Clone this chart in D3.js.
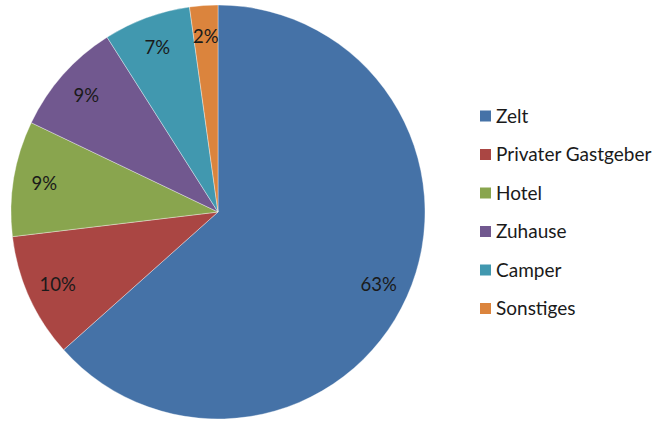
<!DOCTYPE html>
<html>
<head>
<meta charset="utf-8">
<script src="https://cdn.jsdelivr.net/npm/d3@7"></script>
<style>
  body { margin: 0; background: #fff; }
  text { font-family: Lato, "Noto Sans", sans-serif; }
</style>
</head>
<body>
<div id="chart"></div>
<script>
// values (percent)
const categories = ["Zelt", "Privater Gastgeber", "Hotel", "Zuhause", "Camper", "Sonstiges"];
const shares = [63.4, 9.7, 9.0, 8.9, 6.8, 2.2];
const colors = ["#4572A7", "#AA4643", "#89A54E", "#71588F", "#4198AF", "#DB843D"];

const width = 659, height = 421;
const cx = 218, cy = 212, radius = 207;

const svg = d3.select("#chart").append("svg")
    .attr("width", width)
    .attr("height", height);

const pie = d3.pie().sort(null).value(d => d.value);
const data = categories.map((c, i) => ({name: c, value: shares[i], color: colors[i]}));
const arcs = pie(data);

const arc = d3.arc().innerRadius(0).outerRadius(radius);
const labelArc = d3.arc().innerRadius(radius * 0.85).outerRadius(radius * 0.85);

let g = svg.append("g").attr("transform", `translate(${cx},${cy})`);

g.selectAll("path")
    .data(arcs)
    .join("path")
    .attr("d", arc)
    .attr("fill", d => d.data.color)
    .attr("stroke", "#fff")
    .attr("stroke-opacity", 0.6)
    .attr("stroke-width", 0.6);

g.selectAll("text.lbl")
    .data(arcs)
    .join("text")
    .attr("class", "lbl")
    .attr("transform", d => `translate(${labelArc.centroid(d)})`)
    .attr("text-anchor", "middle")
    .attr("dy", "0.36em")
    .style("font-size", "18.5px")
    .style("fill", "#1a1a1a")
    .text(d => Math.round(d.data.value) + "%");

// legend
let legend = svg.append("g").attr("transform", "translate(480,116)");
let rows = legend.selectAll("g")
    .data(data)
    .join("g")
    .attr("transform", (d, i) => `translate(0,${i * 38.5})`);

rows.append("rect")
    .attr("x", 0).attr("y", -5.5)
    .attr("width", 11).attr("height", 11)
    .attr("fill", d => d.color);

rows.append("text")
    .attr("x", 16)
    .attr("dy", "0.36em")
    .style("font-size", "19px")
    .style("fill", "#1a1a1a")
    .text(d => d.name);
</script>
</body>
</html>
